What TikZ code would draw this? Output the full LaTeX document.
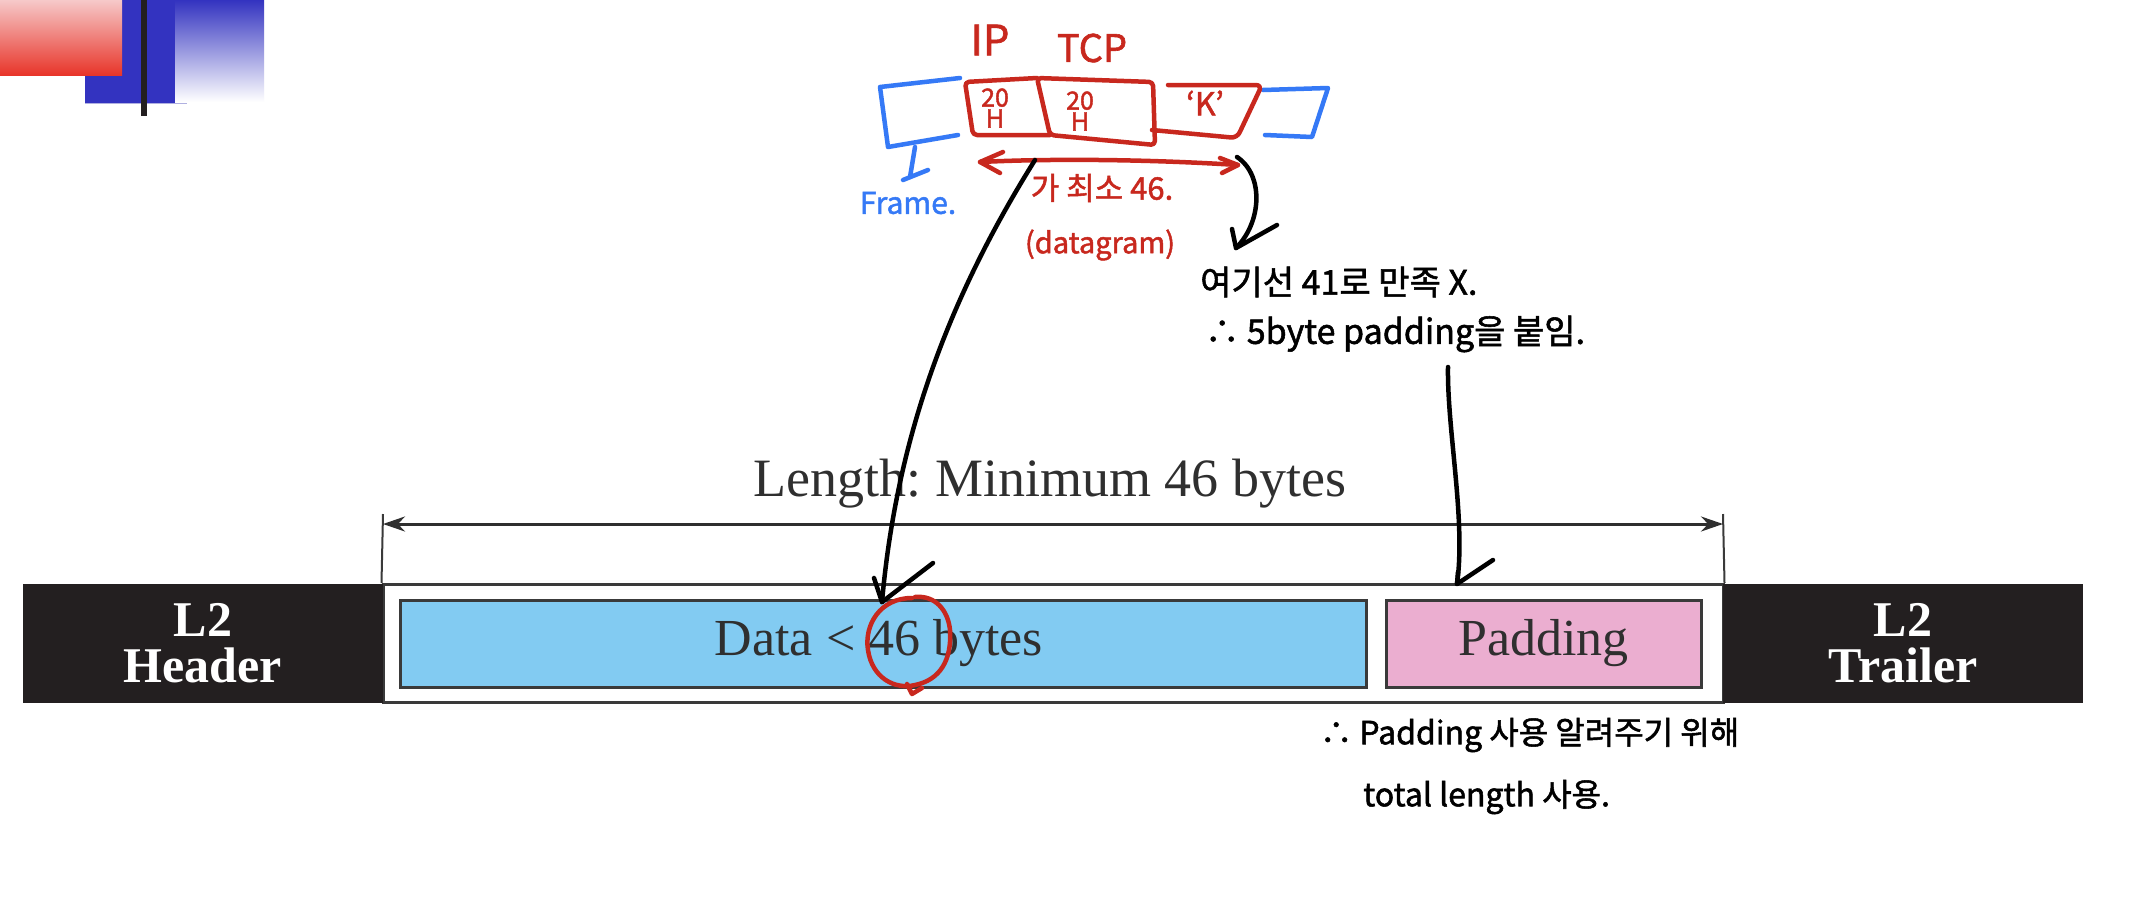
\documentclass[tikz,border=0pt]{standalone}
\usepackage{fontspec}
\setmainfont{Liberation Serif}
\newfontfamily\hand[FakeBold=1.6]{Noto Sans CJK KR}
\usetikzlibrary{arrows.meta,calc}
\definecolor{hdrblack}{HTML}{231F20}
\definecolor{datablue}{HTML}{82CBF2}
\definecolor{padpink}{HTML}{EBAED0}
\definecolor{framegray}{HTML}{3A3A3A}
\definecolor{txtgray}{HTML}{2F2F2F}
\definecolor{inkred}{HTML}{C8281E}
\definecolor{inkblue}{HTML}{3579F6}
\definecolor{decored}{HTML}{E8352A}
\definecolor{decopink}{HTML}{F6C9C9}
\definecolor{decoblue}{HTML}{3333C0}
\definecolor{decoline}{HTML}{B0B0E0}
\tikzset{
  hdr/.style={fill=hdrblack, text=white, minimum width=360pt, minimum height=119pt,
    inner sep=0pt, align=center, font=\fontsize{50}{46}\selectfont\bfseries},
  field/.style={draw=framegray, line width=3pt, minimum height=87pt, inner sep=0pt,
    text=txtgray, font=\fontsize{52}{58}\selectfont},
  pen/.style={line width=4.5pt, line cap=round, line join=round},
  redpen/.style={pen, draw=inkred},
  bluepen/.style={pen, draw=inkblue},
  blackpen/.style={pen, draw=black},
  handtxt/.style={inner sep=0pt, font=\hand\fontsize{#1}{#1}\selectfont},
  handtxt/.default=32
}
\frenchspacing
\begin{document}
\begin{tikzpicture}[x=1pt,y=-1pt]
\useasboundingbox (0,0) rectangle (2150,922);
\fill[white] (0,0) rectangle (2150,922);

% top-left decoration
\fill[decoblue] (85,0) rectangle (175,103);
\shade[top color=decoblue, bottom color=white] (175,0) rectangle (264,102);
\shade[top color=decopink, bottom color=decored] (0,0) rectangle (122,75);
\draw[decoline, line width=1.5pt] (85,103.5) -- (187,103.5);
\fill[hdrblack] (141,0) rectangle (147,116);

% frame
\node[draw=framegray, line width=3pt, minimum width=1340pt, minimum height=118pt, inner sep=0pt] (frame) at (1053,643.5) {};
\node[hdr] (hdr) at (203,643.5) {L2\\Header};
\node[hdr] (trl) at (1903,643.5) {L2\\Trailer};
\node[field, fill=datablue, minimum width=966pt] (data) at (883,643.5) {\kern-8pt Data < 46 bytes};
\node[field, fill=padpink, minimum width=315pt] (pad) at (1543.5,643.5) {Padding};

% dimension
\coordinate (dimL) at (383,524);
\coordinate (dimR) at (1723,524);
\draw[framegray, line width=2pt] (frame.north west) -- (383,514);
\draw[framegray, line width=2pt] (frame.north east) -- (1723,514);
\draw[txtgray, line width=3pt, {Stealth[length=22pt,width=15pt]}-{Stealth[length=22pt,width=15pt]}] (dimL) -- (dimR);
\node[anchor=base, inner sep=0pt, text=txtgray, font=\fontsize{54}{60}\selectfont] (dimlab) at (1050,496) {Length: Minimum 46 bytes};

% ---- handwritten annotations ----
% blue frame brackets
\draw[bluepen] (960,78) -- (880,87) -- (888,147) -- (958,135);
\draw[bluepen] (915,147) -- (910,177);
\draw[bluepen] (903,180) -- (928,170);
\draw[bluepen] (1263,90) -- (1328,88) -- (1312,137) -- (1265,135);
\node[handtxt=30, text=inkblue] (frm) at (908,203) {Frame.};

% red boxes
\draw[redpen, rounded corners=4pt] (1037,78) -- (965,82) -- (973,135) -- (1050,135);
\draw[redpen, rounded corners=4pt] (1037,78) -- (1153,82) -- (1155,145) -- (1050,135) -- cycle;
\draw[redpen, rounded corners=6pt] (1168,85) -- (1262,85) -- (1237,138) -- (1152,130);
\node[handtxt=42, text=inkred] (ip) at (990,40) {IP};
\node[handtxt=38, text=inkred] (tcp) at (1092,48) {TCP};
\node[text=inkred, inner sep=0pt, align=center, font=\hand\fontsize{25}{21}\selectfont] (b1) at (995,108) {20\\H};
\node[text=inkred, inner sep=0pt, align=center, font=\hand\fontsize{25}{21}\selectfont] (b2) at (1080,111) {20\\H};
\node[handtxt=32, text=inkred] (kk) at (1205,103) {‘K’};

% red double arrow
\coordinate (ra) at (980,162);
\coordinate (rb) at (1238,165);
\draw[redpen] (ra) .. controls (1060,158) and (1160,160) .. (rb);
\draw[redpen] (1003,152) -- (ra) -- (1000,173);
\draw[redpen] (1220,158) -- (rb) -- (1222,173);
\node[handtxt=31, text=inkred] (min) at (1102,188) {가 최소 46.};
\node[handtxt=29, text=inkred] (dg) at (1100,245) {(datagram)};

% red circle around 46
\draw[redpen] (912,598) .. controls (880,598) and (864,625) .. (868,650)
  .. controls (872,678) and (895,690) .. (915,685)
  .. controls (940,680) and (952,660) .. (950,630)
  .. controls (948,610) and (935,595) .. (915,597);
\draw[redpen] (907,684) -- (912,694) -- (922,688);

% black arrow 1: datagram -> 46
\coordinate (a1s) at (1035,160);
\coordinate (a1e) at (882,602);
\draw[blackpen] (a1s) .. controls (960,280) and (898,420) .. (a1e);
\draw[blackpen] (874,578) -- (a1e) -- (933,563);

% black arrow 2
\coordinate (a2s) at (1237,157);
\coordinate (a2e) at (1236,248);
\draw[blackpen] (a2s) .. controls (1264,175) and (1262,222) .. (a2e);
\draw[blackpen] (1232,229) -- (a2e) -- (1277,225);
\node[handtxt=34, anchor=west] (t1) at (1200,282) {여기선 41로 만족 X.};
\node[handtxt=34, anchor=west] (t2) at (1205,334) {∴ 5byte padding을 붙임.};

% black arrow 3
\coordinate (a3s) at (1448,367);
\coordinate (a3e) at (1457,584);
\draw[blackpen] (a3s) .. controls (1447,430) and (1466,520) .. (a3e);
\draw[blackpen] (1458,572) -- (a3e) -- (1493,560);

% bottom note
\node[handtxt=32, anchor=west] (t3) at (1320,735) {∴ Padding 사용 알려주기 위해};
\node[handtxt=32, anchor=west] (t4) at (1363,797) {total length 사용.};
\end{tikzpicture}
\end{document}
